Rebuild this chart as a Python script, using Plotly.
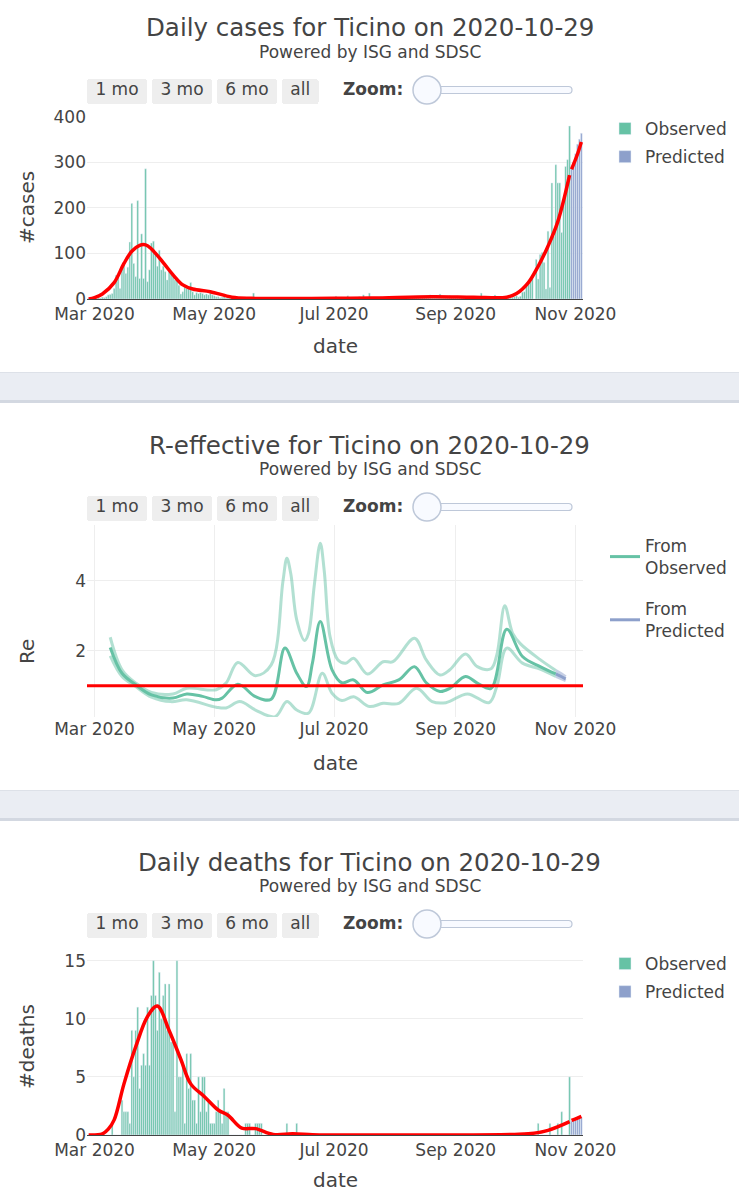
import pandas as pd
import plotly.graph_objects as go

W, H = 739, 1200
def px(x): return x / W
def py(y): return 1 - y / H

GREEN = "#66c2a5"
BLUE = "#8da0cb"
RED = "#ff0000"
TXT = "#444444"
FONT = "DejaVu Sans, Verdana, sans-serif"

# ---------------- data ----------------
obs_start = "2020-02-27"
pred_start = "2020-10-30"

cases_obs = [
    1, 0, 1,
    2, 1, 3, 2, 4, 3, 5, 9, 10, 12,
    23, 52, 49, 23, 65, 76, 56, 70, 125, 210,
    78, 49, 216, 45, 143, 45, 286, 38, 64, 123,
    127, 100, 72, 107, 64, 72, 60, 42, 64, 56,
    49, 42, 45, 30, 11, 16, 27, 23, 25, 36,
    16, 9, 14, 12, 14, 12, 9, 11, 9, 14,
    9, 7, 5, 5, 3, 4, 6, 2, 3, 5,
    3, 2, 4, 1, 2, 3, 1, 2, 0, 1,
    2, 13, 1, 0, 2, 1, 0, 1, 2, 0,
    1, 0, 0, 1, 0, 2, 0, 1, 0, 0,
    1, 0, 0, 0, 1, 0, 2, 0, 1, 0,
    0, 1, 0, 2, 1, 0, 1, 0, 2, 1,
    0, 3, 2, 6, 1, 2, 4, 3, 1, 7,
    2, 3, 1, 4, 2, 5, 3, 9, 2, 4,
    13, 3, 2, 4, 1, 3, 5, 2, 1, 3,
    2, 4, 1, 3, 2, 5, 3, 2, 4, 3,
    5, 2, 4, 6, 3, 5, 2, 4, 6, 5,
    7, 9, 4, 6, 5, 8, 11, 4, 6, 3,
    5, 7, 4, 6, 3, 5, 2, 4, 6, 3,
    4, 2, 5, 3, 6, 4, 2, 13, 5, 3,
    4, 6, 3, 5, 9, 4, 3, 5, 2, 4,
    3, 5, 3, 4, 5, 7, 4, 6, 15, 16,
    29, 33, 44, 52, 0, 87, 44, 98, 102, 80,
    22, 149, 25, 255, 138, 295, 255, 255, 146, 211,
    291, 306, 380,
]
cases_pred = [286, 301, 319, 340, 351, 364]

cases_fit_dates = ["2020-02-27", "2020-03-01", "2020-03-05", "2020-03-11", "2020-03-16",
                   "2020-03-20", "2020-03-24", "2020-03-27", "2020-03-30", "2020-04-05",
                   "2020-04-10", "2020-04-15", "2020-04-20", "2020-04-29", "2020-05-10",
                   "2020-05-20", "2020-06-07", "2020-07-01", "2020-07-20", "2020-08-20",
                   "2020-09-10", "2020-09-27", "2020-10-02", "2020-10-08", "2020-10-13",
                   "2020-10-18", "2020-10-23", "2020-10-29"]
cases_fit = [0, 3, 11, 36, 78, 105, 118, 119, 110, 80, 53, 31, 22, 16, 4, 1.5, 1, 1.5, 2, 5,
             4, 4, 12, 36, 72, 116, 170, 272]
cases_fit_pred_dates = ["2020-10-30", "2020-11-02", "2020-11-04"]
cases_fit_pred = [285, 318, 345]

deaths_obs = [
    0, 0, 0,
    0, 0, 0, 0, 0, 0, 0, 0, 0, 1,
    0, 0, 0, 0, 3, 2, 2, 2, 1, 9,
    5, 9, 11, 4, 6, 7, 6, 11, 6, 12,
    15, 12, 9, 14, 10, 12, 13, 9, 13, 8,
    8, 2, 15, 5, 5, 6, 1, 7, 4, 7,
    3, 3, 1, 5, 2, 5, 5, 2, 3, 1,
    1, 1, 2, 3, 2, 1, 4, 2, 2, 0,
    0, 0, 0, 0, 0, 0, 0, 1, 1, 1,
    0, 0, 1, 1, 1, 1, 0, 0, 0, 0,
    0, 0, 0, 0, 0, 0, 0, 0, 1, 0,
    0, 0, 0, 1, 0, 0, 0, 0, 0, 0,
    0, 0, 0, 0, 0, 0, 0, 0, 0, 0,
    0, 0, 0, 0, 0, 0, 0, 0, 0, 0,
    0, 0, 0, 0, 0, 0, 0, 0, 0, 0,
    0, 0, 0, 0, 0, 0, 0, 0, 0, 0,
    0, 0, 0, 0, 0, 0, 0, 0, 0, 0,
    0, 0, 0, 0, 0, 0, 0, 0, 0, 0,
    0, 0, 0, 0, 0, 0, 0, 0, 0, 0,
    0, 0, 0, 0, 0, 0, 0, 0, 0, 0,
    0, 0, 0, 0, 0, 0, 0, 0, 0, 0,
    0, 0, 0, 0, 0, 0, 0, 0, 0, 0,
    0, 0, 0, 0, 0, 0, 0, 0, 0, 0,
    0, 0, 0, 0, 0, 0, 1, 0, 0, 0,
    0, 0, 1, 0, 0, 0, 1, 0, 2, 0,
    0, 0, 5,
]
deaths_pred = [1.2, 1.3, 1.3, 1.4, 1.4, 1.5]

deaths_fit_dates = ["2020-02-27", "2020-03-05", "2020-03-08", "2020-03-11", "2020-03-16",
                    "2020-03-22", "2020-03-28", "2020-04-02", "2020-04-08", "2020-04-14",
                    "2020-04-19", "2020-04-26", "2020-05-03", "2020-05-08", "2020-05-15",
                    "2020-05-22", "2020-05-31", "2020-06-10", "2020-06-20", "2020-07-01",
                    "2020-08-01", "2020-09-01", "2020-10-01", "2020-10-08", "2020-10-18",
                    "2020-10-29"]
deaths_fit = [0, 0.1, 0.5, 1.3, 4.4, 7.6, 10.2, 11.1, 9, 6.5, 4.4, 3.3, 2.15, 1.7, 0.6, 0.55,
              0.05, 0.1, 0.02, 0, 0, 0, 0.05, 0.1, 0.4, 1.15]
deaths_fit_pred_dates = ["2020-10-30", "2020-11-02", "2020-11-04"]
deaths_fit_pred = [1.25, 1.45, 1.6]

r_med_dates = ["2020-03-09", "2020-03-15", "2020-03-22", "2020-03-30", "2020-04-10", "2020-04-17",
               "2020-04-25", "2020-05-02", "2020-05-05", "2020-05-13", "2020-05-22", "2020-05-30",
               "2020-06-06", "2020-06-12", "2020-06-17", "2020-06-20", "2020-06-24", "2020-06-30",
               "2020-07-05", "2020-07-11", "2020-07-18", "2020-07-26", "2020-08-03", "2020-08-11",
               "2020-08-17", "2020-08-24", "2020-08-29", "2020-09-06", "2020-09-12", "2020-09-19",
               "2020-09-27", "2020-10-05", "2020-10-14", "2020-10-22"]
r_med = [2.1, 1.36, 1.03, 0.74, 0.65, 0.77, 0.7, 0.6, 0.65, 1.05, 0.69, 0.62, 2.08, 1.36, 0.98,
         1.65, 2.84, 1.46, 1.09, 1.17, 0.81, 1.03, 1.17, 1.55, 1.09, 0.84, 0.93, 1.27, 1.08, 0.93,
         2.62, 1.84, 1.55, 1.34]

r_hi_dates = ["2020-03-09", "2020-03-15", "2020-03-22", "2020-03-30", "2020-04-10", "2020-04-17",
              "2020-05-02", "2020-05-07", "2020-05-13", "2020-05-22", "2020-05-30", "2020-06-05",
              "2020-06-07", "2020-06-09", "2020-06-12", "2020-06-16", "2020-06-18", "2020-06-21",
              "2020-06-24", "2020-06-26", "2020-06-29", "2020-07-03", "2020-07-07", "2020-07-11",
              "2020-07-18", "2020-07-26", "2020-07-31", "2020-08-11", "2020-08-17", "2020-08-24",
              "2020-08-29", "2020-09-06", "2020-09-12", "2020-09-19", "2020-09-22", "2020-09-26",
              "2020-09-30", "2020-10-04", "2020-10-14", "2020-10-22"]
r_hi = [2.39, 1.46, 1.08, 0.81, 0.77, 0.93, 0.89, 1.08, 1.67, 1.29, 1.6, 4.0, 4.65, 4.2, 2.89,
        2.3, 2.5, 3.9, 5.08, 4.3, 2.4, 1.74, 1.65, 1.79, 1.34, 1.69, 1.69, 2.36, 1.74, 1.31, 1.46,
        1.91, 1.55, 1.49, 1.9, 3.29, 2.5, 2.2, 1.75, 1.44]

r_lo_dates = ["2020-03-09", "2020-03-15", "2020-03-22", "2020-03-30", "2020-04-09", "2020-04-17",
              "2020-05-02", "2020-05-07", "2020-05-14", "2020-05-22", "2020-06-01", "2020-06-07",
              "2020-06-12", "2020-06-18", "2020-06-25", "2020-06-30", "2020-07-05", "2020-07-11",
              "2020-07-19", "2020-07-26", "2020-08-03", "2020-08-12", "2020-08-20", "2020-08-27",
              "2020-09-07", "2020-09-18", "2020-09-22", "2020-09-27", "2020-10-05", "2020-10-14",
              "2020-10-22"]
r_lo = [1.86, 1.27, 0.98, 0.68, 0.55, 0.6, 0.39, 0.37, 0.55, 0.31, 0.12, 0.55, 0.31, 0.22, 1.36,
        0.79, 0.58, 0.69, 0.41, 0.5, 0.5, 0.93, 0.55, 0.52, 0.77, 0.52, 1.0, 2.08, 1.65, 1.48, 1.27]

rp_dates = ["2020-10-22", "2020-10-25", "2020-10-27"]
rp_med = [1.34, 1.26, 1.2]
rp_hi = [1.44, 1.34, 1.26]
rp_lo = [1.27, 1.2, 1.15]

button_labels = ["1 mo", "3 mo", "6 mo", "all"]

x_range = ["2020-02-26 04:00", "2020-11-04 20:00"]

# ---------------- figure ----------------
obs_dates = pd.date_range(obs_start, periods=len(cases_obs), freq="D")
pred_dates = pd.date_range(pred_start, periods=len(cases_pred), freq="D")

fig = go.Figure()

# panel 1
fig.add_trace(go.Bar(x=obs_dates, y=cases_obs, name="Observed", marker_color=GREEN,
                     xaxis="x", yaxis="y", legend="legend", legendgroup="o1"))
fig.add_trace(go.Bar(x=pred_dates, y=cases_pred, name="Predicted", marker_color=BLUE,
                     xaxis="x", yaxis="y", legend="legend", legendgroup="p1"))
fig.add_trace(go.Scatter(x=cases_fit_dates, y=cases_fit, mode="lines", showlegend=False,
                         line=dict(color=RED, width=3.5, shape="spline"), xaxis="x", yaxis="y"))
fig.add_trace(go.Scatter(x=cases_fit_pred_dates, y=cases_fit_pred, mode="lines", showlegend=False,
                         line=dict(color=RED, width=3.5, shape="spline"), xaxis="x", yaxis="y"))

# panel 2
ci_green = "rgba(102,194,165,0.5)"
ci_blue = "rgba(141,160,203,0.5)"
fig.add_trace(go.Scatter(x=r_hi_dates, y=r_hi, mode="lines", showlegend=False,
                         line=dict(color=ci_green, width=3, shape="spline"), xaxis="x2", yaxis="y2"))
fig.add_trace(go.Scatter(x=r_lo_dates, y=r_lo, mode="lines", showlegend=False,
                         line=dict(color=ci_green, width=3, shape="spline"), xaxis="x2", yaxis="y2"))
fig.add_trace(go.Scatter(x=r_med_dates, y=r_med, mode="lines", name="From<br>Observed",
                         line=dict(color=GREEN, width=3, shape="spline"), xaxis="x2", yaxis="y2",
                         legend="legend2", legendgroup="o2"))
fig.add_trace(go.Scatter(x=rp_dates, y=rp_hi, mode="lines", showlegend=False,
                         line=dict(color=ci_blue, width=3, shape="spline"), xaxis="x2", yaxis="y2"))
fig.add_trace(go.Scatter(x=rp_dates, y=rp_lo, mode="lines", showlegend=False,
                         line=dict(color=ci_blue, width=3, shape="spline"), xaxis="x2", yaxis="y2"))
fig.add_trace(go.Scatter(x=rp_dates, y=rp_med, mode="lines", name="From<br>Predicted",
                         line=dict(color=BLUE, width=3, shape="spline"), xaxis="x2", yaxis="y2",
                         legend="legend2", legendgroup="p2"))

# panel 3
fig.add_trace(go.Bar(x=obs_dates, y=deaths_obs, name="Observed", marker_color=GREEN,
                     xaxis="x3", yaxis="y3", legend="legend3", legendgroup="o3"))
fig.add_trace(go.Bar(x=pred_dates, y=deaths_pred, name="Predicted", marker_color=BLUE,
                     xaxis="x3", yaxis="y3", legend="legend3", legendgroup="p3"))
fig.add_trace(go.Scatter(x=deaths_fit_dates, y=deaths_fit, mode="lines", showlegend=False,
                         line=dict(color=RED, width=3.5, shape="spline"), xaxis="x3", yaxis="y3"))
fig.add_trace(go.Scatter(x=deaths_fit_pred_dates, y=deaths_fit_pred, mode="lines", showlegend=False,
                         line=dict(color=RED, width=3.5, shape="spline"), xaxis="x3", yaxis="y3"))

XDOM = [px(87), px(583)]
tickfont = dict(size=17, color=TXT, family=FONT)
PAD = "\u2009"

def rangesel(ycenter):
    counts = [1, 3, 6]
    buttons = [dict(count=n, label=PAD + lab + PAD, step="month", stepmode="backward")
               for n, lab in zip(counts, button_labels[:3])]
    buttons.append(dict(step="all", label=PAD + button_labels[3] + PAD))
    return dict(buttons=buttons, x=px(87), xanchor="left", y=py(ycenter), yanchor="middle",
                font=dict(size=17, color=TXT, family=FONT), bgcolor="#eeeeee",
                activecolor="#d4d4d4")

def xax(anchor, ycenter, grid, line):
    return dict(domain=XDOM, anchor=anchor, type="date", range=x_range, tickformat="%b %Y",
                dtick="M2", tick0="2020-03-01", showgrid=grid, gridcolor="#eeeeee",
                zeroline=False, showline=line, linecolor="#444444", linewidth=1, ticks="",
                tickfont=tickfont, rangeselector=rangesel(ycenter), automargin=False)

def yax(lo, hi, anchor, rng, dt):
    return dict(domain=[py(lo), py(hi)], anchor=anchor, range=rng, dtick=dt, tick0=0,
                showgrid=True, gridcolor="#eeeeee", zeroline=False, tickfont=tickfont,
                ticks="", automargin=False)

def leg(x, y, gap):
    return dict(x=px(x), y=py(y), xanchor="left", yanchor="top", tracegroupgap=gap,
                font=dict(size=17, color=TXT, family=FONT), bgcolor="rgba(0,0,0,0)")

fig.update_layout(
    width=W, height=H, margin=dict(l=0, r=0, t=0, b=0, pad=0, autoexpand=False),
    paper_bgcolor="white", plot_bgcolor="white",
    font=dict(family=FONT, color=TXT, size=17),
    barmode="relative", bargap=0.15,
    xaxis=xax("y", 92, False, True),
    yaxis=yax(299, 116, "x", [0, 402], 100),
    xaxis2=xax("y2", 509, True, False),
    yaxis2=yax(717, 525, "x2", [0.11, 5.6], 2),
    xaxis3=xax("y3", 926, False, True),
    yaxis3=yax(1135, 952, "x3", [0, 15.75], 5),
    legend=leg(605, 111, 3),
    legend2=leg(605, 528, 16),
    legend3=leg(605, 946, 3),
    showlegend=True,
)

# titles, subtitles, zoom labels, axis titles
panels = [
    ("Daily cases for Ticino on 2020-10-29", 0, "#cases", 208),
    ("R-effective for Ticino on 2020-10-29", 417, "Re", 652),
    ("Daily deaths for Ticino on 2020-10-29", 834, "#deaths", 1047),
]
shapes = []
annotations = []
for title, off, ytitle, yt in panels:
    annotations.append(dict(text=title, x=0.5, y=py(28 + off), xref="paper", yref="paper",
                            showarrow=False, xanchor="center", yanchor="middle",
                            font=dict(size=24.5, color=TXT, family=FONT)))
    annotations.append(dict(text="Powered by ISG and SDSC", x=0.5, y=py(52 + off), xref="paper",
                            yref="paper", showarrow=False, xanchor="center", yanchor="middle",
                            font=dict(size=17, color=TXT, family=FONT)))
    annotations.append(dict(text="<b>Zoom:</b>", x=px(341), y=py(89 + off), xref="paper",
                            yref="paper", showarrow=False, xanchor="left", yanchor="middle",
                            font=dict(size=17, color=TXT, family=FONT)))
    annotations.append(dict(text="date", x=px(335), y=py(346 + off), xref="paper", yref="paper",
                            showarrow=False, xanchor="center", yanchor="middle",
                            font=dict(size=20, color=TXT, family=FONT)))
    annotations.append(dict(text=ytitle, x=px(27), y=py(yt), xref="paper", yref="paper",
                            showarrow=False, xanchor="center", yanchor="middle", textangle=-90,
                            font=dict(size=20, color=TXT, family=FONT)))
    # slider rail
    c = 90 + off
    x0, x1, r = 420, 572, 3.5
    y0, y1 = c - 3.5, c + 3.5
    path = (f"M{px(x0 + r)},{py(y0)} L{px(x1 - r)},{py(y0)} Q{px(x1)},{py(y0)} {px(x1)},{py(c)} "
            f"Q{px(x1)},{py(y1)} {px(x1 - r)},{py(y1)} L{px(x0 + r)},{py(y1)} "
            f"Q{px(x0)},{py(y1)} {px(x0)},{py(c)} Q{px(x0)},{py(y0)} {px(x0 + r)},{py(y0)} Z")
    shapes.append(dict(type="path", path=path, xref="paper", yref="paper",
                       fillcolor="#F8FAFF", line=dict(color="#BEC8D9", width=1.2), layer="above"))
    shapes.append(dict(type="circle", xref="paper", yref="paper", x0=px(413), x1=px(441),
                       y0=py(c + 14), y1=py(c - 14), fillcolor="#F8FAFF",
                       line=dict(color="#BEC8D9", width=1.5), layer="above"))

# separator bands between panels
for top in (372, 790):
    shapes.append(dict(type="rect", xref="paper", yref="paper", x0=0, x1=1,
                       y0=py(top + 28), y1=py(top), fillcolor="#eaedf3", line=dict(width=0),
                       layer="below"))
    shapes.append(dict(type="rect", xref="paper", yref="paper", x0=0, x1=1,
                       y0=py(top + 31), y1=py(top + 28), fillcolor="#d3d8e1", line=dict(width=0),
                       layer="below"))
    shapes.append(dict(type="rect", xref="paper", yref="paper", x0=0, x1=1,
                       y0=py(top + 1), y1=py(top), fillcolor="#dde1e8", line=dict(width=0),
                       layer="below"))

# R = 1 reference line
shapes.append(dict(type="line", xref="x2 domain", yref="y2", x0=0, x1=1, y0=1, y1=1,
                   line=dict(color=RED, width=3), layer="above"))

fig.update_layout(shapes=shapes, annotations=annotations)

fig.write_html("out.html", config={"displayModeBar": False},
               post_script="document.body.style.margin='0px';"
                           "document.documentElement.style.overflow='hidden';")
